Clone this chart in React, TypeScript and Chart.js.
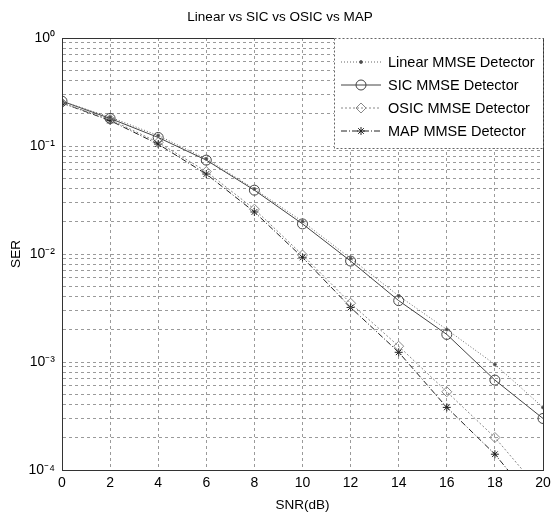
import React, { useEffect, useRef } from 'react';
import { Chart, registerables } from 'chart.js';

Chart.register(...registerables);

// ---------- data ----------
const snrDb = [0, 2, 4, 6, 8, 10, 12, 14, 16, 18, 20];
const linearSer = [0.26, 0.185, 0.125, 0.076, 0.040, 0.020, 0.0091, 0.0041, 0.0020, 0.00095, 0.00038];
const sicSer = [0.26, 0.18, 0.12, 0.074, 0.039, 0.019, 0.0086, 0.0037, 0.0018, 0.00068, 0.00030];
const osicSer = [0.25, 0.176, 0.108, 0.058, 0.026, 0.0098, 0.0035, 0.0014, 0.00053, 0.0002, 0.00006];
const mapSer = [0.25, 0.172, 0.104, 0.055, 0.0245, 0.0093, 0.0032, 0.00123, 0.00038, 0.00014, 0.00004];

const seriesLabels = ['Linear MMSE Detector', 'SIC MMSE Detector', 'OSIC MMSE Detector', 'MAP MMSE Detector'];
const titleText = 'Linear vs SIC vs OSIC vs MAP';
const xTitle = 'SNR(dB)';
const yTitle = 'SER';
const xTickStep = 2;
const yDecades = [-4, -3, -2, -1, 0];
const yMinorMultipliers = [1, 2, 3, 4, 5, 6, 7, 8, 9];

const FONT = 'Liberation Sans, Arial, Helvetica, sans-serif';
const SUP: Record<string, string> = { '-': '\u207B', '0': '\u2070', '1': '\u00B9', '2': '\u00B2', '3': '\u00B3', '4': '\u2074' };

function drawMarker(ctx: CanvasRenderingContext2D, style: string, x: number, y: number, r: number) {
  ctx.beginPath();
  if (style === 'circle') {
    ctx.arc(x, y, r, 0, Math.PI * 2);
  } else if (style === 'rectRot') {
    ctx.moveTo(x, y - r);
    ctx.lineTo(x + r, y);
    ctx.lineTo(x, y + r);
    ctx.lineTo(x - r, y);
    ctx.closePath();
  } else if (style === 'star') {
    const d = r * Math.SQRT1_2;
    ctx.moveTo(x - r, y); ctx.lineTo(x + r, y);
    ctx.moveTo(x, y - r); ctx.lineTo(x, y + r);
    ctx.moveTo(x - d, y - d); ctx.lineTo(x + d, y + d);
    ctx.moveTo(x - d, y + d); ctx.lineTo(x + d, y - d);
  }
}

const framePlugin = {
  id: 'frameAndLegend',
  afterDraw(chart: any) {
    const { ctx, chartArea } = chart;
    const { left, right, top, bottom } = chartArea;
    ctx.save();
    ctx.strokeStyle = '#333';
    ctx.lineWidth = 1;
    ctx.setLineDash([]);
    ctx.strokeRect(Math.round(left) + 0.5, Math.round(top) + 0.5, Math.round(right - left), Math.round(bottom - top));

    // legend
    const bx = 334, by = Math.round(top), bw = Math.round(right) - bx, bh = 110;
    ctx.fillStyle = '#fff';
    ctx.fillRect(bx, by, bw, bh);
    ctx.strokeStyle = '#666';
    ctx.setLineDash([2, 2]);
    ctx.strokeRect(bx + 0.5, by + 0.5, bw, bh);
    ctx.font = `14.5px ${FONT}`;
    ctx.textBaseline = 'middle';
    ctx.textAlign = 'left';
    chart.data.datasets.forEach((ds: any, i: number) => {
      const y = by + 24 + i * 23;
      ctx.strokeStyle = ds.borderColor;
      ctx.lineWidth = ds.borderWidth;
      ctx.setLineDash(ds.borderDash || []);
      ctx.beginPath();
      ctx.moveTo(341, y);
      ctx.lineTo(381, y);
      ctx.stroke();
      ctx.setLineDash([]);
      ctx.strokeStyle = ds.pointBorderColor;
      ctx.fillStyle = ds.pointBackgroundColor;
      drawMarker(ctx, ds.pointStyle, 361, y, ds.pointRadius);
      ctx.fill();
      ctx.stroke();
      ctx.fillStyle = '#000';
      ctx.fillText(ds.label, 388, y + 1);
    });
    ctx.restore();
  },
};

export default function App() {
  const ref = useRef<HTMLCanvasElement | null>(null);
  useEffect(() => {
    document.body.style.margin = '0';
    if (!ref.current) return;
    const mk = (label: string, data: number[], color: string, dash: number[], pointStyle: string, r: number, fill: string) => ({
      label,
      data: data.map((v, i) => ({ x: snrDb[i], y: v })),
      borderColor: color,
      borderWidth: 1,
      borderDash: dash,
      pointStyle,
      pointRadius: r,
      pointBorderColor: color,
      pointBackgroundColor: fill,
      pointBorderWidth: 1,
      fill: false,
      tension: 0,
    });
    const chart = new Chart(ref.current, {
      type: 'line',
      data: {
        datasets: [
          mk(seriesLabels[0], linearSer, '#666', [1, 2], 'circle', 1.5, '#444'),
          mk(seriesLabels[1], sicSer, '#444', [], 'circle', 5, 'rgba(0,0,0,0)'),
          mk(seriesLabels[2], osicSer, '#888', [2, 2], 'rectRot', 5, 'rgba(0,0,0,0)'),
          mk(seriesLabels[3], mapSer, '#222', [6, 2, 1, 2], 'star', 4, 'rgba(0,0,0,0)'),
        ] as any,
      },
      options: {
        responsive: false,
        animation: false,
        events: [],
        layout: { padding: 0 },
        plugins: {
          legend: { display: false },
          tooltip: { enabled: false },
          title: {
            display: true,
            text: titleText,
            color: '#000',
            font: { family: FONT, size: 13.5, weight: 'normal' },
            padding: { top: 9, bottom: 12.8 },
          },
        },
        scales: {
          x: {
            type: 'linear',
            min: 0,
            max: 20,
            ticks: { stepSize: xTickStep, color: '#000', font: { family: FONT, size: 14 }, padding: 5, maxRotation: 0 },
            grid: { color: '#9a9a9a', drawTicks: false, lineWidth: 1 },
            border: { display: true, color: '#333', dash: [3, 3] },
            title: { display: true, text: xTitle, color: '#000', font: { family: FONT, size: 13.5 }, padding: { top: 0, bottom: 0 } },
            afterFit: (s: any) => { s.height = 43; },
          },
          y: {
            type: 'logarithmic',
            min: 1e-4,
            max: 1,
            afterBuildTicks: (s: any) => {
              const t: any[] = [];
              yDecades.forEach((d) => {
                if (d === 0) { t.push({ value: 1 }); return; }
                yMinorMultipliers.forEach((m) => t.push({ value: m * Math.pow(10, d) }));
              });
              s.ticks = t;
            },
            ticks: {
              autoSkip: false,
              color: '#000',
              font: { family: FONT, size: 14 },
              padding: 7,
              callback: (v: any) => {
                const l = Math.log10(Number(v));
                if (Math.abs(l - Math.round(l)) > 1e-6) return '';
                return '10' + String(Math.round(l)).split('').map((c) => SUP[c] || c).join('');
              },
            },
            grid: { color: '#9a9a9a', drawTicks: false, lineWidth: 1 },
            border: { display: true, color: '#333', dash: [3, 3] },
            title: { display: true, text: yTitle, color: '#000', font: { family: FONT, size: 13.5 }, padding: { top: 8, bottom: 0 } },
            afterFit: (s: any) => { s.width = 62; },
          },
          yRight: {
            type: 'linear',
            position: 'right',
            display: true,
            grid: { display: false },
            border: { display: false },
            ticks: { display: false },
            afterFit: (s: any) => { s.width = 17; },
          },
        },
      } as any,
      plugins: [framePlugin],
    });
    return () => chart.destroy();
  }, []);
  return (
    <div style={{ width: 560, height: 513, background: '#fff' }}>
      <canvas ref={ref} width={560} height={513} style={{ display: 'block' }} />
    </div>
  );
}
